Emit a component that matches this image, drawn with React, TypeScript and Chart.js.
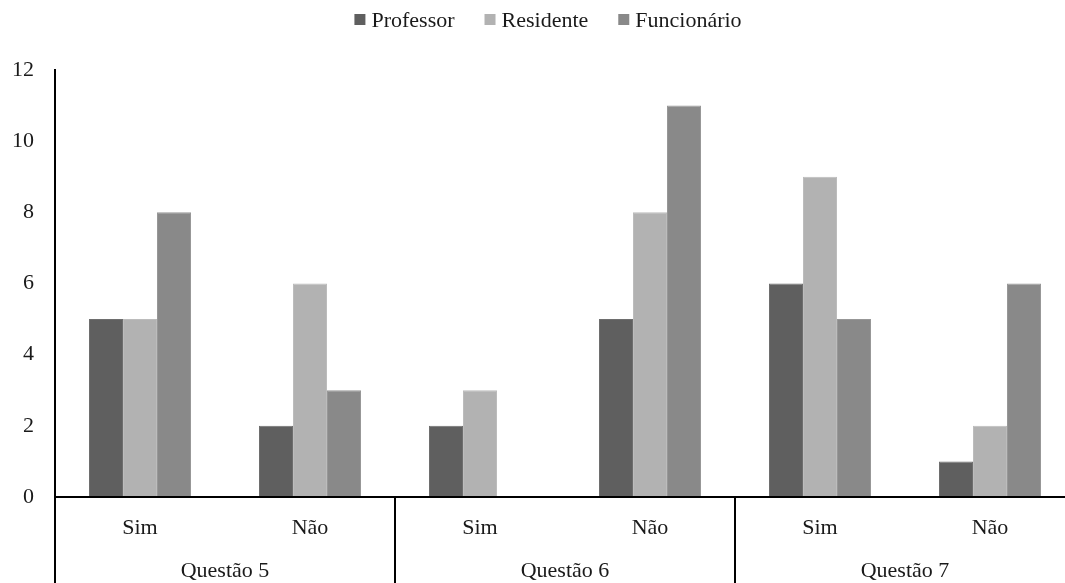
import React, { useEffect, useRef } from "react";
import { Chart, registerables } from "chart.js";

Chart.register(...registerables);

const categories = ["Sim", "Não", "Sim", "Não", "Sim", "Não"];
const groups = ["Questão 5", "Questão 6", "Questão 7"];
const professor = [5, 2, 2, 5, 6, 1];
const residente = [5, 6, 3, 8, 9, 2];
const funcionario = [8, 3, 0, 11, 5, 6];
const yTicks = [0, 2, 4, 6, 8, 10, 12];

const FONT = "'Liberation Serif', 'Times New Roman', serif";
const TEXT = "#1a1a1a";
const FS = 22;

const customLegend = {
  id: "customLegend",
  afterDraw(chart: any) {
    const { ctx } = chart;
    const items = chart.data.datasets.map((d: any) => ({ label: d.label, color: d.backgroundColor }));
    ctx.save();
    ctx.font = `${FS}px ${FONT}`;
    const box = 11;
    const gapBT = 6;
    const gapItem = 30;
    const widths = items.map((it: any) => box + gapBT + ctx.measureText(it.label).width);
    const total = widths.reduce((a: number, b: number) => a + b, 0) + gapItem * (items.length - 1);
    let x = 548 - total / 2;
    ctx.textBaseline = "alphabetic";
    ctx.textAlign = "left";
    items.forEach((it: any, i: number) => {
      ctx.fillStyle = it.color;
      ctx.fillRect(x, 14, box, box);
      ctx.fillStyle = TEXT;
      ctx.fillText(it.label, x + box + gapBT, 27);
      x += widths[i] + gapItem;
    });
    ctx.restore();
  },
};

const axisLabels = {
  id: "axisLabels",
  afterDraw(chart: any) {
    const { ctx, chartArea, scales } = chart;
    const x = scales.x;
    const bottom = chartArea.bottom;
    const H = chart.height;
    ctx.save();
    ctx.strokeStyle = "#000";
    ctx.lineWidth = 2;
    ctx.beginPath();
    ctx.moveTo(chartArea.left - 1, bottom);
    ctx.lineTo(chartArea.right, bottom);
    ctx.stroke();
    const cw = (chartArea.right - chartArea.left) / categories.length;
    for (let g = 0; g <= groups.length; g++) {
      const px = Math.round(chartArea.left + g * 2 * cw);
      ctx.beginPath();
      ctx.moveTo(px, g === 0 ? chartArea.top : bottom);
      ctx.lineTo(px, H);
      ctx.stroke();
    }
    ctx.fillStyle = TEXT;
    ctx.font = `${FS}px ${FONT}`;
    ctx.textAlign = "center";
    ctx.textBaseline = "alphabetic";
    categories.forEach((c, i) => {
      ctx.fillText(c, x.getPixelForValue(i), bottom + 37);
    });
    groups.forEach((g, i) => {
      const cx = (x.getPixelForValue(i * 2) + x.getPixelForValue(i * 2 + 1)) / 2;
      ctx.fillText(g, cx, bottom + 80);
    });
    ctx.restore();
  },
};

export default function App() {
  const ref = useRef<HTMLCanvasElement>(null);
  useEffect(() => {
    if (!ref.current) return;
    const chart = new Chart(ref.current, {
      type: "bar",
      data: {
        labels: categories,
        datasets: [
          { label: "Professor", data: professor, backgroundColor: "#5f5f5f", borderColor: "#6e6e6e", borderWidth: 1 },
          { label: "Residente", data: residente, backgroundColor: "#b2b2b2", borderColor: "#bcbcbc", borderWidth: 1 },
          { label: "Funcionário", data: funcionario, backgroundColor: "#898989", borderColor: "#979797", borderWidth: 1 },
        ],
      },
      options: {
        responsive: false,
        animation: false,
        devicePixelRatio: 1,
        layout: { padding: { left: 0, right: 20, top: 70, bottom: 86 } },
        datasets: { bar: { categoryPercentage: 0.6, barPercentage: 1.0 } },
        plugins: {
          tooltip: { enabled: false },
          legend: { display: false },
        },
        scales: {
          x: {
            display: false,
            grid: { display: false },
          },
          y: {
            min: 0,
            max: 12,
            afterFit(scale: any) {
              scale.width = 55;
            },
            afterBuildTicks(scale: any) {
              scale.ticks = yTicks.map((v) => ({ value: v }));
            },
            grid: { display: false, drawTicks: false },
            border: { display: true, color: "#000", width: 2 },
            ticks: {
              padding: 21,
              color: TEXT,
              font: { family: FONT, size: FS },
            },
          },
        },
      },
      plugins: [customLegend, axisLabels],
    });
    return () => chart.destroy();
  }, []);
  return (
    <div style={{ position: "fixed", left: 0, top: 0, width: 1065, height: 583, overflow: "hidden", background: "#fff" }}>
      <canvas ref={ref} width={1095} height={583} style={{ display: "block", width: 1095, height: 583 }} />
    </div>
  );
}
